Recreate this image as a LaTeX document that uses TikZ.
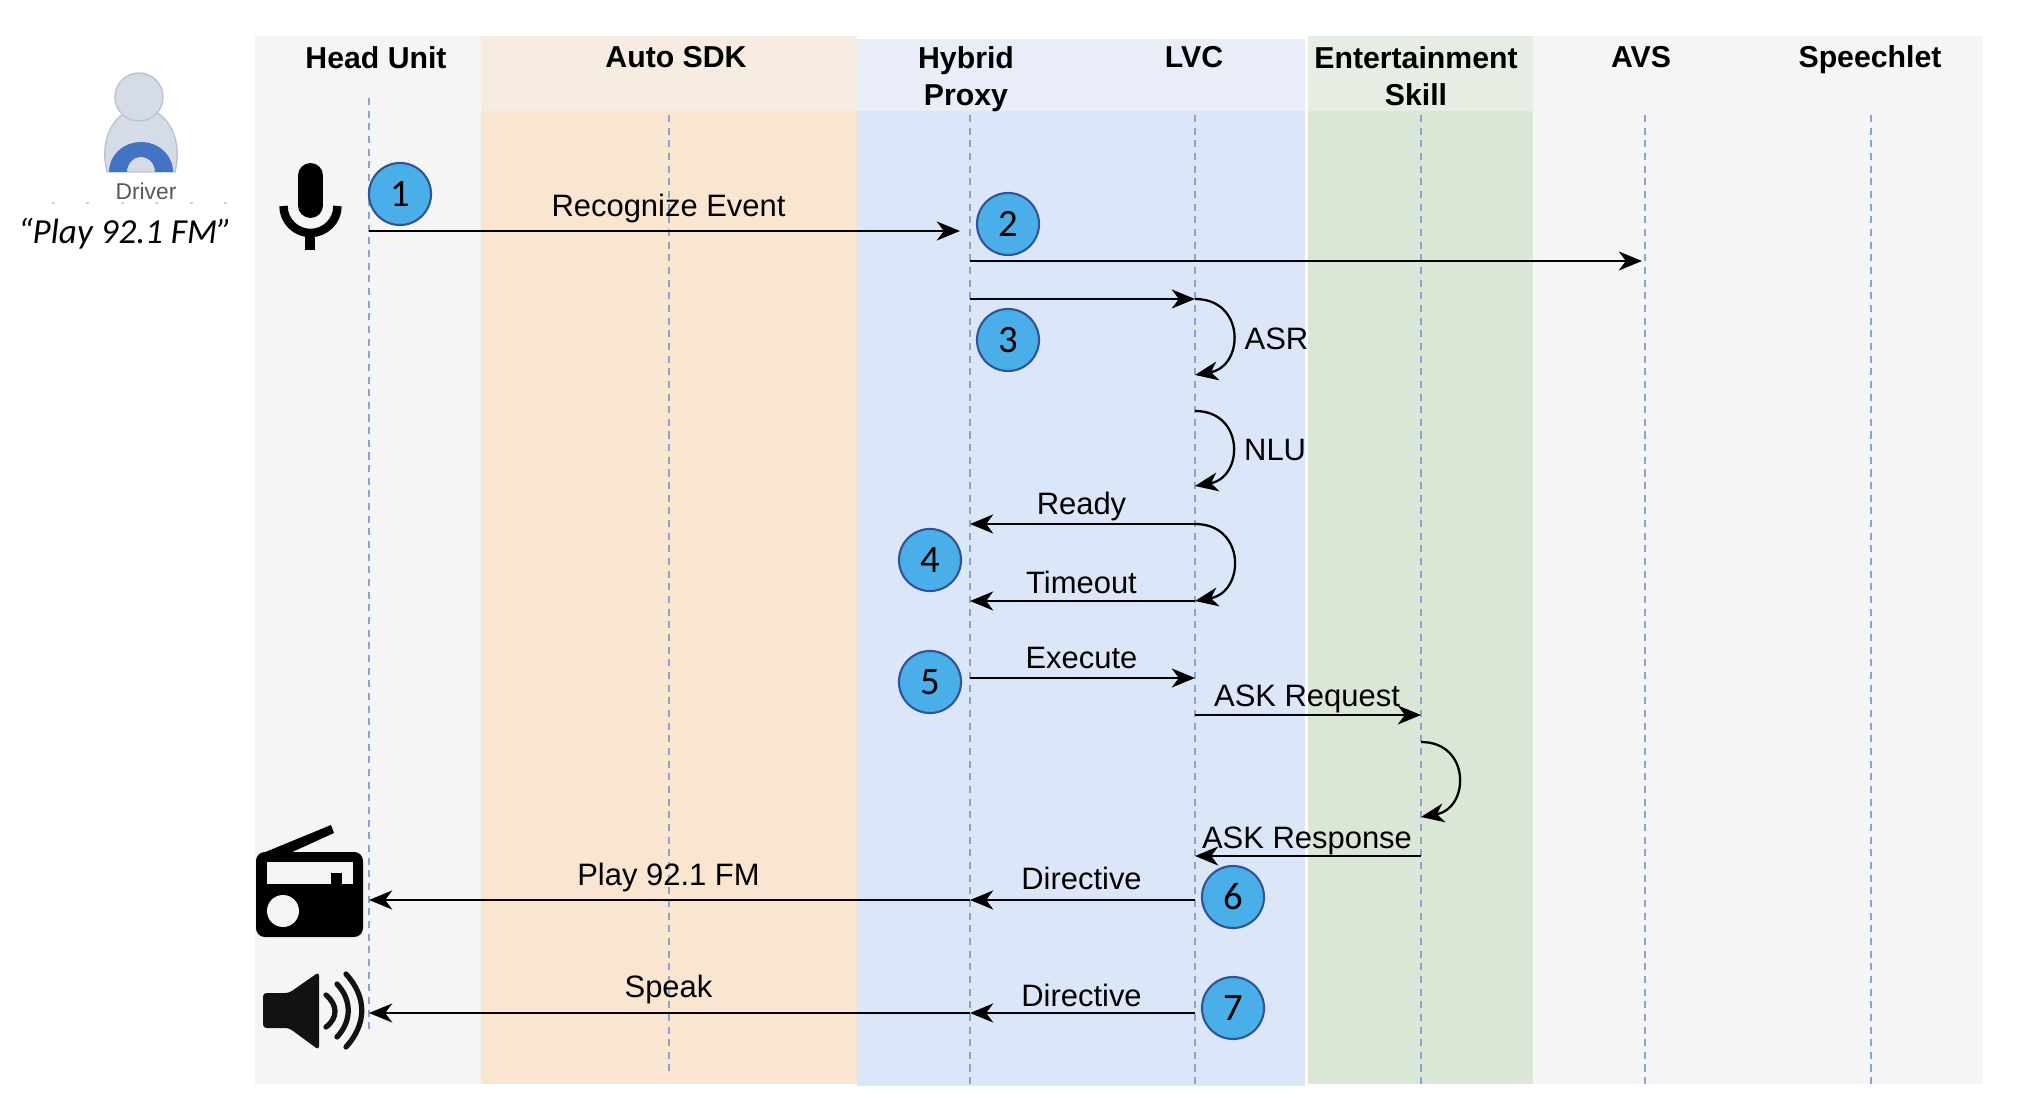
\documentclass[tikz,border=0pt]{standalone}
\usepackage{fontspec}
\setmainfont{Liberation Sans}
\newfontfamily\numfont{Carlito}
\usetikzlibrary{arrows.meta}
\definecolor{greyband}{HTML}{F5F5F5}
\definecolor{orangeband}{HTML}{FAE5D0}
\definecolor{orangehead}{HTML}{F7ECE1}
\definecolor{blueband}{HTML}{DBE6F8}
\definecolor{bluehead}{HTML}{E8EDF7}
\definecolor{greenband}{HTML}{DAE7D6}
\definecolor{greenhead}{HTML}{E6EDE3}
\definecolor{dashblue}{HTML}{8AA4CF}
\definecolor{badgefill}{HTML}{4AAEE9}
\definecolor{badgeline}{HTML}{2F5597}
\definecolor{personfill}{HTML}{D6DCE5}
\definecolor{personline}{HTML}{B8C4D8}
\definecolor{personarc}{HTML}{4472C4}
\tikzset{
  lane/.style={font=\fontsize{8.6}{10.8}\selectfont\bfseries,align=center,inner sep=0pt,anchor=base},
  lifeline/.style={draw=dashblue,line width=.8pt,dash pattern=on 2pt off 1.6pt},
  msg/.style={-{Stealth[length=6.6pt,width=5.4pt,inset=2pt]},line width=.65pt,black},
  msglabel/.style={font=\fontsize{8.8}{10}\selectfont,inner sep=0pt,anchor=base,xshift=-.01cm},
  selfcall/.style={out=0,in=10,looseness=1.7},
  badge/.style={circle,draw=badgeline,fill=badgefill,line width=.6pt,minimum size=.62cm,inner sep=0pt,font=\fontsize{11}{12}\numfont},
}
\begin{document}
\begin{tikzpicture}[x=.01cm,y=-.01cm]
  \useasboundingbox (0,0) rectangle (2018,1110);
  % bands
  \fill[greyband] (255,36) rectangle (481,1084);
  \fill[orangeband] (481,111) rectangle (857,1084);
  \fill[orangehead] (481,36) rectangle (857,111);
  \fill[blueband] (857,111) rectangle (1305,1086);
  \fill[bluehead] (857,39) rectangle (1305,111);
  \fill[greenband] (1308,111) rectangle (1533,1084);
  \fill[greenhead] (1308,36) rectangle (1533,111);
  \fill[greyband] (1533,36) rectangle (1983,1084);
  % lane titles
  \node[lane] (headunit) at (376,69) {Head Unit};
  \node[lane] (autosdk) at (676,68) {Auto SDK};
  \node[lane] (hybrid) at (966,106) {Hybrid\\Proxy};
  \node[lane] (lvc) at (1194,68) {LVC};
  \node[lane] (skill) at (1416,106) {Entertainment\\Skill};
  \node[lane] (avs) at (1641,68) {AVS};
  \node[lane] (speechlet) at (1870,68) {Speechlet};
  % lifelines and the points on them
  \foreach \who/\x/\top/\bot in {hu/369/98/1032,sdk/669/115/1071,hp/970/115/1084,lv/1195/115/1084,es/1421/115/1084,av/1645/115/1084,sp/1871/115/1084}{
    \coordinate (\who top) at (\x,\top);
    \coordinate (\who bot) at (\x,\bot);
    \draw[lifeline] (\who top)--(\who bot);
    \foreach \y [count=\n] in {231,261,299,375,411,486,524,601,678,715,742,817,856,900,1013}
      \coordinate (\who\n) at (\x,\y);
  }
  % messages
  \draw[msg,shorten >=.1cm] (hu1)--node[msglabel,yshift=.14cm]{Recognize Event}(hp1);
  \draw[msg,shorten >=.03cm] (hp2)--(av2);
  \draw[msg] (hp3)--(lv3);
  \draw[msg] (lv3) to[selfcall] node[msglabel,anchor=west,xshift=.12cm,yshift=-.05cm]{ASR} (lv4);
  \draw[msg] (lv5) to[selfcall] node[msglabel,anchor=west,xshift=.12cm,yshift=-.05cm]{NLU} (lv6);
  \draw[msg] (lv7)--node[msglabel,yshift=.09cm]{Ready}(hp7);
  \draw[msg] (lv7) to[selfcall] (lv8);
  \draw[msg] (lv8)--node[msglabel,yshift=.07cm]{Timeout}(hp8);
  \draw[msg] (hp9)--node[msglabel,yshift=.09cm]{Execute}(lv9);
  \draw[msg] (lv10)--node[msglabel,yshift=.08cm]{ASK Request}(es10);
  \draw[msg] (es11) to[selfcall] (es12);
  \draw[msg] (es13)--node[msglabel,yshift=.07cm]{ASK Response}(lv13);
  \draw[msg] (lv14)--node[msglabel,yshift=.1cm]{Directive}(hp14);
  \draw[msg] (hp14)--node[msglabel,yshift=.14cm]{Play 92.1 FM}(hu14);
  \draw[msg] (lv15)--node[msglabel,yshift=.06cm]{Directive}(hp15);
  \draw[msg] (hp15)--node[msglabel,yshift=.15cm]{Speak}(hu15);
  % numbered steps
  \node[badge] (badge1) at (400,194) {1};
  \node[badge] (badge2) at (1008,224) {2};
  \node[badge] (badge3) at (1008,340) {3};
  \node[badge] (badge4) at (930,560) {4};
  \node[badge] (badge5) at (930,682) {5};
  \node[badge] (badge6) at (1233,897) {6};
  \node[badge] (badge7) at (1233,1008) {7};
  % driver
  \draw[personline,fill=personfill,line width=.4pt] (107,172) .. controls (98,135) and (118,108) .. (141,108) .. controls (164,108) and (184,135) .. (175,172) -- cycle;
  \fill[personarc] (109,172) arc (180:360:32 and 30) -- (155,172) arc (360:180:14 and 15) -- cycle;
  \draw[personline,fill=personfill,line width=.4pt] (139,97) circle (24);
  \node[font=\fontsize{6.5}{7}\selectfont,text=black!65,inner sep=0pt] (driver) at (146,191) {Driver};
  \draw[black!18,line width=.3pt,dash pattern=on .8pt off 9pt] (52,203)--(255,203);
  \node[font=\fontsize{10}{12}\numfont\itshape,inner sep=0pt] (utterance) at (125,234) {“Play 92.1 FM”};
  % microphone
  \draw[black,line width=7.1pt,line cap=round] (310.5,175.5)--(310.5,205.5);
  \draw[black,line width=2.4pt] (283.5,206) arc (180:0:27);
  \fill[black] (305,235) rectangle (315,250);
  % radio
  \fill[black,rounded corners=2.5pt] (256,852) rectangle (363,937);
  \fill[black] (263,853) -- (331,825) -- (334,833) -- (290,853) -- cycle;
  \fill[greyband] (267,862) rectangle (353,884);
  \fill[black] (331,873) rectangle (342,884);
  \fill[greyband] (283,911) circle (16);
  % loudspeaker
  \fill[black!93,rounded corners=1pt] (263,993) -- (289,993) -- (319,972) -- (319,1050) -- (289,1028) -- (263,1028) -- cycle;
  \draw[black!93,line width=1.5pt,line cap=round] (326,995) .. controls (338,1005) and (338,1018) .. (326,1027);
  \draw[black!93,line width=1.5pt,line cap=round] (337,984) .. controls (352,1000) and (352,1021) .. (337,1037);
  \draw[black!93,line width=1.5pt,line cap=round] (346,974) .. controls (367,997) and (367,1024) .. (346,1047);
\end{tikzpicture}
\end{document}
